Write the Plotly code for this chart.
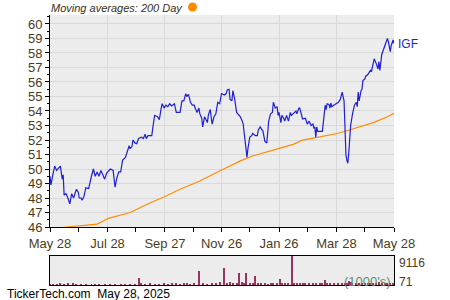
import pandas as pd
import plotly.graph_objects as go

# ---------------- data ----------------
start_date = "2024-05-28"
price_days = [0,1,3,5,7,10,11,13,14,15,17,19,21,23,25,28,30,31,33,34,36,38,40,41,44,46,48,50,52,54,56,58,60,64,67,69,71,73,75,77,80,82,84,85,87,88,90,92,94,97,99,101,102,104,106,108,109,111,114,116,118,119,121,123,125,127,129,132,134,136,138,140,142,144,145,147,149,151,153,154,156,158,159,161,162,164,167,168,170,172,174,176,178,180,182,185,187,188,190,191,193,194,196,198,201,202,204,205,206,208,209,210,212,214,215,218,220,221,223,224,226,228,230,231,232,234,236,237,239,241,242,243,245,246,248,249,251,253,255,256,257,258,259,261,262,264,265,267,268,271,273,275,277,279,280,281,282,283,284,286,289,291,292,293,294,296,297,298,299,301,303,306,308,310,312,313,314,315,316,317,318,319,321,323,325,326,327,328,330,331,332,334,335,337,340,341,343,344,346,348,349,350,352,353,354,356,358,359,361,362,363,364,365]
price = [49.5,48.9,49.6,50.2,49.9,50.1,50.2,49.3,49.6,48.2,48.3,48.0,47.6,48.3,48.0,48.6,48.4,48.0,48.0,47.85,48.1,48.7,48.7,48.65,49.5,50.0,49.5,49.8,49.5,49.9,49.6,49.3,49.7,50.0,49.9,48.75,49.4,49.8,49.8,50.6,50.8,51.3,51.6,51.4,51.55,52.0,51.8,51.75,52.1,52.2,52.1,52.4,52.1,52.3,52.3,52.3,52.8,53.7,53.6,53.4,54.2,54.5,54.2,54.4,54.3,54.5,54.35,54.5,53.9,53.9,53.9,54.7,54.7,55.2,55.0,55.15,54.6,54.4,54.4,54.2,53.9,54.2,53.8,53.5,52.9,53.6,53.2,53.7,54.1,53.1,53.6,53.8,54.6,54.5,55.2,55.1,55.2,55.45,55.5,54.8,54.7,55.4,54.8,53.9,53.7,53.6,53.3,53.1,52.5,51.5,50.8,51.4,52.2,52.3,52.45,52.3,52.3,52.7,52.9,52.8,52.6,51.9,51.8,52.5,53.3,53.8,53.9,54.6,54.2,54.3,53.7,53.9,53.2,53.7,53.5,53.3,53.7,53.3,53.9,53.7,53.75,53.8,53.9,54.0,53.8,54.2,54.2,53.6,53.45,53.5,53.1,53.3,53.0,53.1,52.8,52.9,52.2,52.9,52.6,52.6,52.6,53.8,54.4,54.1,54.5,54.45,54.2,54.55,54.3,54.4,54.5,54.6,54.8,55.3,54.7,52.4,51.0,50.6,50.4,51.1,52.6,53.0,53.8,54.4,54.6,54.3,55.3,54.7,55.4,55.5,56.1,56.2,56.4,56.5,56.8,56.7,57.3,57.6,57.3,56.9,57.4,56.8,57.9,58.1,58.3,58.6,59.0,58.8,58.1,58.5,58.7,58.9,58.66]

ma_days = [0,10,17,34,50,62,85,106,122,138,159,180,194,202,215,230,244,258,268,279,294,305,315,329,343,358,365]
ma200 = [45.85,45.95,46.0,46.1,46.2,46.6,47.0,47.66,48.1,48.6,49.17,49.86,50.3,50.56,50.9,51.2,51.44,51.7,51.99,52.13,52.3,52.45,52.64,52.92,53.2,53.6,53.84]

vol_days = [0,3,7,11,15,19,24,28,33,38,44,48,52,58,64,69,75,80,85,90,94,97,101,106,111,116,121,125,129,134,138,142,145,149,153,158,162,167,172,176,180,185,188,191,194,198,201,204,206,208,212,215,218,221,224,228,231,234,237,241,244,246,249,253,257,259,262,265,268,271,275,279,282,286,289,292,294,297,301,306,310,313,315,317,319,321,325,328,331,334,337,340,343,346,349,352,355,358,361,364]
volume = [250,300,200,350,250,600,650,300,250,200,150,200,150,150,200,250,200,300,150,200,2300,500,300,350,250,300,400,300,350,450,300,400,350,250,350,4400,600,300,350,450,800,5400,600,900,500,400,3800,900,600,3700,700,500,2800,350,400,350,300,450,350,600,1800,700,400,450,9116,500,450,450,400,350,400,350,500,400,450,1500,450,400,350,450,500,700,600,1200,900,600,650,500,500,450,600,500,600,700,800,600,500,650,600,500]

major_ticks = ["2024-05-28","2024-07-28","2024-09-27","2024-11-26","2025-01-26","2025-03-28","2025-05-28"]
major_labels = ["May 28","Jul 28","Sep 27","Nov 26","Jan 26","Mar 28","May 28"]
minor_ticks = ["2024-06-27","2024-08-27","2024-10-27","2024-12-26","2025-02-25","2025-04-27"]
y_ticks = list(range(46, 61))

# ---------------- build ----------------
base = pd.Timestamp(start_date)
px_dates = base + pd.to_timedelta(price_days, unit="D")
ma_dates = base + pd.to_timedelta(ma_days, unit="D")
v_dates = base + pd.to_timedelta(vol_days, unit="D")

txt = "#4a3c1e"
font_family = "Liberation Sans, Arial, sans-serif"

fig = go.Figure()
fig.add_trace(go.Scatter(x=ma_dates, y=ma200, mode="lines",
                         line=dict(color="#ff8c00", width=1.2), hoverinfo="skip"))
fig.add_trace(go.Scatter(x=px_dates, y=price, mode="lines",
                         line=dict(color="#1f1fd6", width=1.2), hoverinfo="skip"))
fig.add_trace(go.Bar(x=v_dates, y=volume, xaxis="x2", yaxis="y2",
                     marker=dict(color="#993366", line=dict(width=0)),
                     width=86400000 * 1.0))

xr = [pd.Timestamp("2024-05-28"), pd.Timestamp("2025-05-28")]

fig.update_layout(
    width=450, height=300,
    margin=dict(l=0, r=0, t=0, b=0, autoexpand=False),
    paper_bgcolor="white",
    plot_bgcolor="#ececec",
    showlegend=False,
    font=dict(family=font_family, size=13, color=txt),
    bargap=0,
    xaxis=dict(domain=[50/450, 394/450], anchor="y", range=xr, automargin=False,
               tickmode="array", tickvals=major_ticks, ticktext=major_labels,
               ticks="outside", ticklen=4, tickcolor="black",
               showline=True, linecolor="black", linewidth=1,
               showgrid=True, gridcolor="#d9d9d9", gridwidth=1,
               zeroline=False,
               minor=dict(tickmode="array", tickvals=minor_ticks, ticks="outside",
                          ticklen=4, tickcolor="black", showgrid=False),
               tickfont=dict(size=13, color=txt)),
    yaxis=dict(domain=[1 - 227/300, 1 - 15/300], anchor="x", automargin=False,
               range=[46, 60.62], tickmode="array", tickvals=y_ticks,
               ticks="outside", ticklen=4, tickcolor="black",
               showline=True, linecolor="black", linewidth=1,
               showgrid=True, gridcolor="#d9d9d9", gridwidth=1,
               zeroline=False,
               minor=dict(dtick=0.5, tick0=46, ticks="outside", ticklen=2,
                          tickcolor="black", showgrid=False),
               tickfont=dict(size=13, color=txt)),
    xaxis2=dict(domain=[50/450, 394/450], anchor="y2", range=xr, automargin=False,
                showticklabels=False, ticks="", showgrid=False, zeroline=False,
                showline=True, linecolor="black", linewidth=1, mirror=True),
    yaxis2=dict(domain=[1 - 285/300, 1 - 256/300], anchor="x2", automargin=False,
                range=[0, 9116], showticklabels=False, ticks="", showgrid=False,
                zeroline=False, showline=True, linecolor="black", linewidth=1,
                mirror=True),
)

fig.add_annotation(x=49/450, y=1 - 8/300, xref="paper", yref="paper",
                   text="<i>Moving averages: 200 Day</i>", showarrow=False,
                   xanchor="left", yanchor="middle",
                   font=dict(size=11, color="#3a3020"))
fig.add_shape(type="circle", xref="paper", yref="paper",
              x0=188/450, x1=197/450, y0=1 - 11.5/300, y1=1 - 2.5/300,
              fillcolor="#ff8c00", line=dict(width=0))
fig.add_annotation(x=396/450, y=1 - 44/300, xref="paper", yref="paper",
                   text="IGF", showarrow=False, xanchor="left", yanchor="middle",
                   font=dict(size=12, color="#1f1fd6"))
fig.add_annotation(x=397/450, y=1 - 263/300, xref="paper", yref="paper",
                   text="9116", showarrow=False, xanchor="left", yanchor="middle",
                   font=dict(size=12, color=txt))
fig.add_annotation(x=397/450, y=1 - 282/300, xref="paper", yref="paper",
                   text="71", showarrow=False, xanchor="left", yanchor="middle",
                   font=dict(size=12, color=txt))
fig.add_annotation(x=393/450, y=1 - 281/300, xref="paper", yref="paper",
                   text="(1000's)", showarrow=False, xanchor="right", yanchor="middle",
                   font=dict(size=13, color="#5f8f6f"))
fig.add_annotation(x=5/450, y=1 - 294/300, xref="paper", yref="paper",
                   text="TickerTech.com  May 28, 2025", showarrow=False,
                   xanchor="left", yanchor="middle",
                   font=dict(size=12, color="black"))

fig.write_html("out.html")
